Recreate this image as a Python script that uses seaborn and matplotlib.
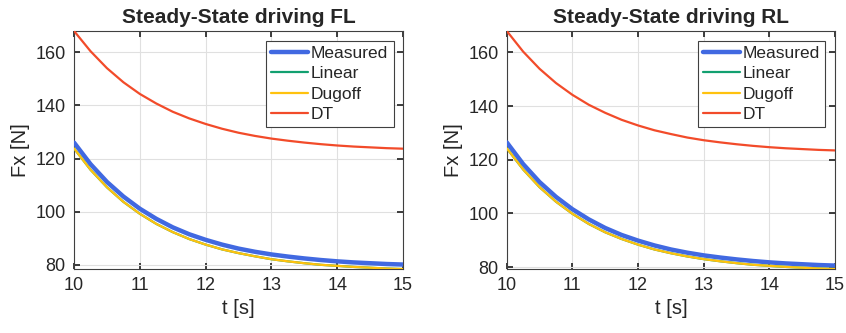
import numpy as np
import pandas as pd
import matplotlib
matplotlib.use("Agg")
import matplotlib.pyplot as plt
import seaborn as sns

# time axis [s]
t = [10.0, 10.25, 10.5, 10.75, 11.0, 11.25, 11.5, 11.75, 12.0, 12.25, 12.5,
     12.75, 13.0, 13.25, 13.5, 13.75, 14.0, 14.25, 14.5, 14.75, 15.0]

# Front left wheel, Fx [N]
fl_measured = [126.0, 117.9, 111.2, 105.7, 101.1, 97.3, 94.1, 91.5, 89.4, 87.6, 86.1,
               84.9, 83.9, 83.1, 82.4, 81.8, 81.3, 80.9, 80.6, 80.3, 80.1]
fl_linear = [123.8, 115.8, 109.2, 103.7, 99.2, 95.4, 92.3, 89.7, 87.6, 85.8, 84.4,
             83.2, 82.1, 81.3, 80.6, 80.0, 79.6, 79.2, 78.9, 78.6, 78.4]
fl_dugoff = [123.8, 115.8, 109.2, 103.7, 99.2, 95.4, 92.3, 89.7, 87.6, 85.8, 84.4,
             83.2, 82.1, 81.3, 80.6, 80.0, 79.6, 79.2, 78.9, 78.6, 78.4]
fl_dt = [168.0, 160.4, 154.0, 148.7, 144.3, 140.7, 137.6, 135.1, 133.0, 131.2, 129.7,
         128.5, 127.5, 126.7, 126.0, 125.4, 124.9, 124.5, 124.2, 123.9, 123.7]

# Rear left wheel, Fx [N]
rl_measured = [126.5, 118.4, 111.7, 106.2, 101.6, 97.8, 94.6, 92.0, 89.9, 88.1, 86.6,
               85.4, 84.4, 83.6, 82.9, 82.3, 81.8, 81.4, 81.1, 80.8, 80.6]
rl_linear = [124.3, 116.4, 109.8, 104.4, 99.9, 96.1, 93.0, 90.5, 88.4, 86.6, 85.2,
             84.0, 83.0, 82.2, 81.5, 80.9, 80.5, 80.1, 79.8, 79.5, 79.3]
rl_dugoff = [124.3, 116.4, 109.8, 104.4, 99.9, 96.1, 93.0, 90.5, 88.4, 86.6, 85.2,
             84.0, 83.0, 82.2, 81.5, 80.9, 80.5, 80.1, 79.8, 79.5, 79.3]
rl_dt = [168.0, 160.3, 153.9, 148.6, 144.2, 140.5, 137.5, 134.9, 132.8, 131.0, 129.6,
         128.3, 127.3, 126.5, 125.8, 125.2, 124.7, 124.3, 124.0, 123.7, 123.5]

models = ["Measured", "Linear", "Dugoff", "DT"]
colors = {"Measured": "#4169E1", "Linear": "#12A070", "Dugoff": "#FFC20E", "DT": "#F24B2A"}
widths = {"Measured": 3.2, "Linear": 1.6, "Dugoff": 1.6, "DT": 1.6}

panels = [
    ("Steady-State driving FL", [fl_measured, fl_linear, fl_dugoff, fl_dt]),
    ("Steady-State driving RL", [rl_measured, rl_linear, rl_dugoff, rl_dt]),
]

sns.set_theme(style="ticks")
plt.rcParams['font.family'] = ['Liberation Sans', 'DejaVu Sans']

fig = plt.figure(figsize=(8.46, 3.33), dpi=100)
positions = [[0.0875, 0.192, 0.389, 0.715], [0.599, 0.192, 0.388, 0.715]]

for pos, (title, series) in zip(positions, panels):
    ax = fig.add_axes(pos)
    frames = []
    for name, vals in zip(models, series):
        frames.append(pd.DataFrame({"t": t, "Fx": vals, "model": name}))
    df = pd.concat(frames, ignore_index=True)

    for name in models:
        sub = df[df["model"] == name]
        sns.lineplot(data=sub, x="t", y="Fx", color=colors[name], lw=widths[name],
                     label=name, ax=ax, zorder=3)

    ax.set_xlim(10, 15)
    ax.set_ylim(df["Fx"].min(), df["Fx"].max())
    ax.set_xticks([10, 11, 12, 13, 14, 15])
    ax.set_yticks([80, 100, 120, 140, 160])
    ax.grid(True, color="#E0E0E0", lw=0.8, zorder=0)
    ax.tick_params(direction="in", top=True, right=True, length=4, labelsize=13,
                   colors="#262626", pad=6)
    for sp in ax.spines.values():
        sp.set_color("#404040")
        sp.set_linewidth(0.8)
    ax.set_xlabel("t [s]", fontsize=14.5, color="#262626", labelpad=3)
    ax.set_ylabel("Fx [N]", fontsize=14.5, color="#262626", labelpad=4)
    ax.set_title(title, fontsize=15, fontweight="bold", pad=6)
    leg = ax.legend(loc="upper right", fontsize=12.5, frameon=True, fancybox=False,
                    handlelength=2.1, handletextpad=0.2, borderpad=0.3,
                    labelspacing=0.3, borderaxespad=0.55)
    leg.get_frame().set_edgecolor("#404040")
    leg.get_frame().set_linewidth(0.8)
    leg.get_frame().set_alpha(1)

fig.savefig("out.png", dpi=100)
